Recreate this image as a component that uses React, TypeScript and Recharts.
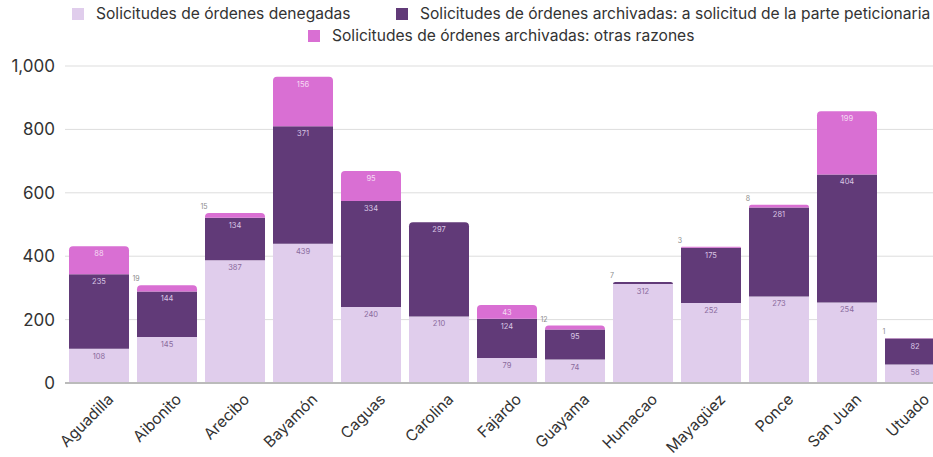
import React from "react";
import { BarChart, Bar, XAxis, YAxis, CartesianGrid, LabelList } from "recharts";

const regions = [
  "Aguadilla", "Aibonito", "Arecibo", "Bayamón", "Caguas", "Carolina", "Fajardo",
  "Guayama", "Humacao", "Mayagüez", "Ponce", "San Juan", "Utuado",
];
const denegadas = [108, 145, 387, 439, 240, 210, 79, 74, 312, 252, 273, 254, 58];
const archivadasPeticion = [235, 144, 134, 371, 334, 297, 124, 95, 7, 175, 281, 404, 82];
const archivadasOtras = [88, 19, 15, 156, 95, 0, 43, 12, 0, 3, 8, 199, 1];
const yTicks = [0, 200, 400, 600, 800, 1000];

const series = [
  { key: "denegadas", name: "Solicitudes de órdenes denegadas", fill: "#e0cdec", text: "#8a6a9c" },
  { key: "peticion", name: "Solicitudes de órdenes archivadas: a solicitud de la parte peticionaria", fill: "#613a78", text: "#d9c6e4" },
  { key: "otras", name: "Solicitudes de órdenes archivadas: otras razones", fill: "#d96fd3", text: "#f6dcf4" },
];
const keys = series.map((s) => s.key);

const data = regions.map((name, i) => ({
  name,
  denegadas: denegadas[i],
  peticion: archivadasPeticion[i],
  otras: archivadasOtras[i],
}));

const FONT = "Inter, 'Noto Sans', sans-serif";

// rounds the top corners of whichever segment is the visible top of its stack
const makeShape = (key: string, fill: string) => (props: any) => {
  const { x, y, width, height, payload } = props;
  if (!height || height <= 0) return <g />;
  const idx = keys.indexOf(key);
  const isTop = keys.slice(idx + 1).every((k) => !payload[k]);
  const r = isTop ? Math.min(4, height) : 0;
  const d = `M${x},${y + height} L${x},${y + r} Q${x},${y} ${x + r},${y} L${x + width - r},${y} Q${x + width},${y} ${x + width},${y + r} L${x + width},${y + height} Z`;
  return <path d={d} fill={fill} />;
};

const makeLabel = (color: string) => (props: any) => {
  const { x, y, width, height, value } = props;
  if (!value) return null;
  if (height < 12) {
    return (
      <text x={x - 1} y={y - 4} textAnchor="middle" fontSize={7} fill="#8c8c8c" fontFamily={FONT}>
        {value}
      </text>
    );
  }
  return (
    <text x={x + width / 2} y={y + 10} textAnchor="middle" fontSize={7.5} fill={color} fontFamily={FONT}>
      {value}
    </text>
  );
};

const XTick = (props: any) => {
  const { x, y, payload } = props;
  return (
    <g transform={`translate(${x + 9},${y + 3}) rotate(-45)`}>
      <text x={0} y={0} dy={9} textAnchor="end" fontSize={15.5} fill="#333" fontFamily={FONT}>
        {payload.value}
      </text>
    </g>
  );
};

const LegendItem = ({ color, label, left, top }: { color: string; label: string; left: number; top: number }) => (
  <div style={{ position: "absolute", left, top, display: "flex", alignItems: "center", whiteSpace: "nowrap" }}>
    <span style={{ width: 12, height: 12, background: color, marginRight: 12, display: "inline-block" }} />
    <span>{label}</span>
  </div>
);

export default function App() {
  return (
    <div style={{ position: "absolute", left: 0, top: 0, width: 933, height: 457, overflow: "hidden", fontFamily: FONT, background: "#fff" }}>
      <div style={{ position: "absolute", top: 0, left: 0, width: 933, height: 50, fontSize: 15.6, color: "#333", lineHeight: "20px", zIndex: 1 }}>
        <LegendItem color={series[0].fill} label={series[0].name} left={72} top={4} />
        <LegendItem color={series[1].fill} label={series[1].name} left={396} top={4} />
        <LegendItem color={series[2].fill} label={series[2].name} left={308} top={26} />
      </div>
      <BarChart
        width={949}
        height={457}
        data={data}
        margin={{ top: 66, right: 0, left: 0, bottom: 0 }}
        barCategoryGap={4}
      >
        <CartesianGrid vertical={false} stroke="#dddddd" />
        <XAxis
          dataKey="name"
          height={74}
          interval={0}
          tick={<XTick />}
          tickLine={false}
          axisLine={{ stroke: "#bbbbbb", strokeWidth: 2 }}
        />
        <YAxis
          width={65}
          domain={[0, 1000]}
          ticks={yTicks}
          axisLine={false}
          tickLine={false}
          tickMargin={4}
          tick={{ fontSize: 17, fill: "#333", fontFamily: FONT }}
          tickFormatter={(v: number) => v.toLocaleString("en-US")}
        />
        {series.map((s) => (
          <Bar
            key={s.key}
            dataKey={s.key}
            name={s.name}
            stackId="a"
            fill={s.fill}
            shape={makeShape(s.key, s.fill)}
            isAnimationActive={false}
          >
            <LabelList dataKey={s.key} content={makeLabel(s.text)} />
          </Bar>
        ))}
      </BarChart>
    </div>
  );
}
